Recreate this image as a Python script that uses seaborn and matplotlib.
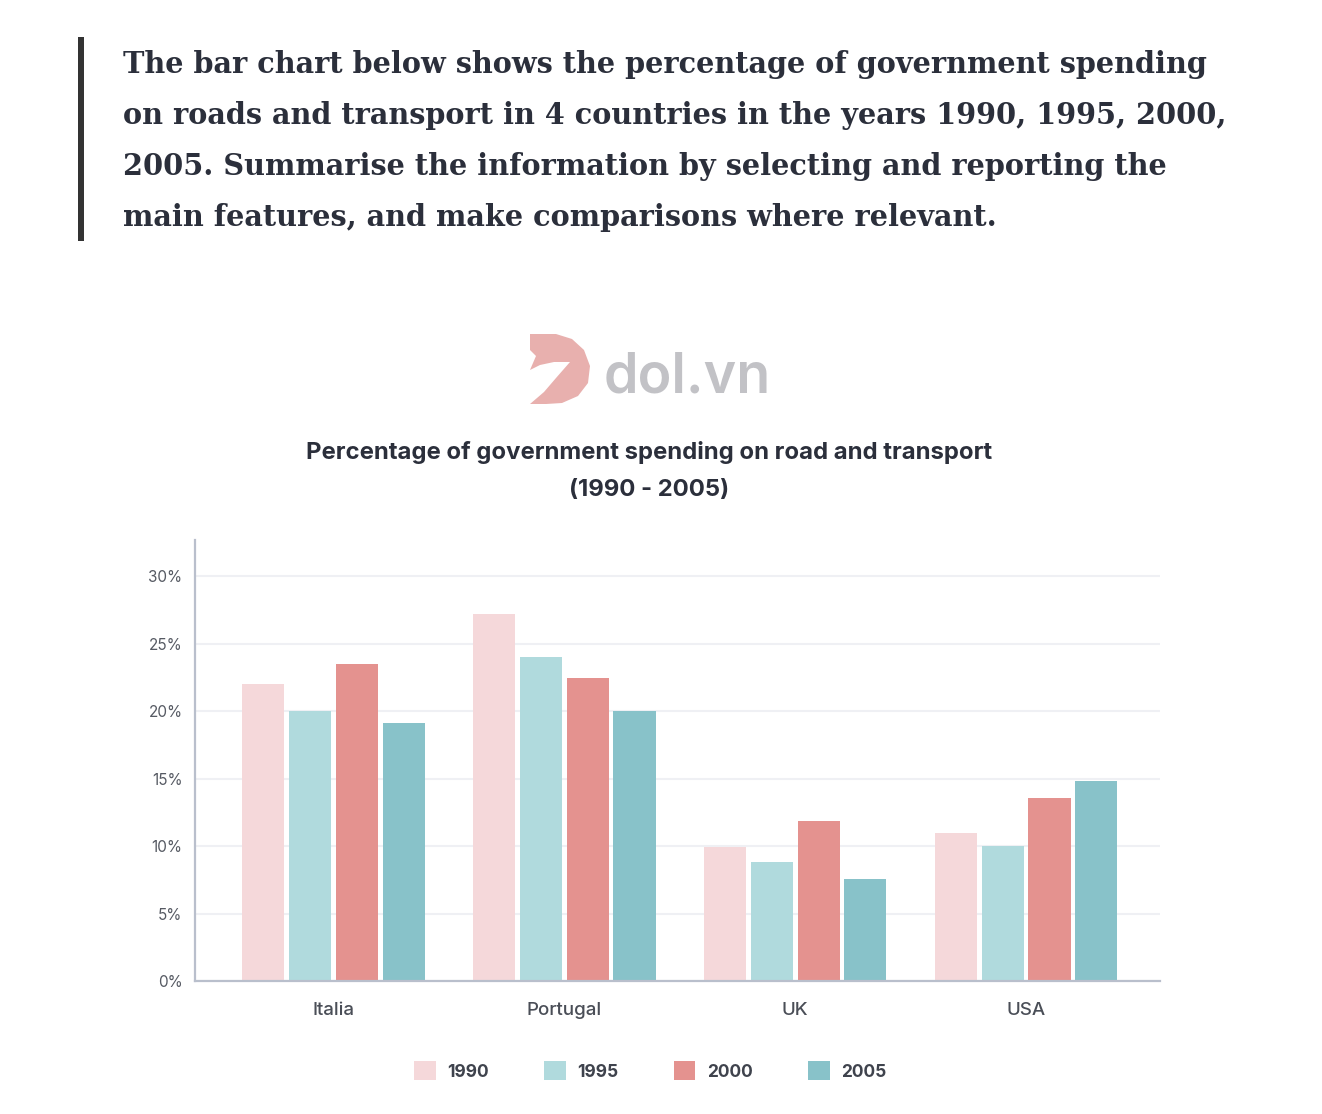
import numpy as np
import pandas as pd
import seaborn as sns
import matplotlib.pyplot as plt
from matplotlib.patches import Polygon, Rectangle

# ---- data ----
countries = ["Italia", "Portugal", "UK", "USA"]
years = ["1990", "1995", "2000", "2005"]
v1990 = [22.0, 27.2, 9.9, 11.0]
v1995 = [20.0, 24.0, 8.8, 10.0]
v2000 = [23.5, 22.5, 11.9, 13.6]
v2005 = [19.1, 20.0, 7.6, 14.8]
yticks = [0, 5, 10, 15, 20, 25, 30]
ytick_labels = ["0%", "5%", "10%", "15%", "20%", "25%", "30%"]
colors = ["#F5D8DA", "#B0DADD", "#E4928F", "#88C2C9"]

header_lines = [
    "The bar chart below shows the percentage of government spending",
    "on roads and transport in 4 countries in the years 1990, 1995, 2000,",
    "2005. Summarise the information by selecting and reporting the",
    "main features, and make comparisons where relevant.",
]
chart_title = "Percentage of government spending on road and transport"
chart_subtitle = "(1990 - 2005)"

df = pd.DataFrame({
    "Country": countries * 4,
    "Year": np.repeat(years, len(countries)),
    "Value": v1990 + v1995 + v2000 + v2005,
})

sns.set_theme(style="white")
plt.rcParams['font.family'] = ['Inter', 'DejaVu Sans']

W, H = 1322, 1114
fig = plt.figure(figsize=(W / 100, H / 100), dpi=100)
fig.patch.set_facecolor("white")

def fx(x):
    return x / W

def fy(y):
    return 1 - y / H

ax = fig.add_axes([fx(195), fy(981), fx(1160 - 195), (981 - 540) / H])
sns.barplot(data=df, x="Country", y="Value", hue="Year", palette=colors,
            width=0.81, gap=0.1, saturation=1, ax=ax, linewidth=0)

ax.set_xlim(-0.6, 3.58)
ax.set_ylim(0, 32.7)
ax.set_yticks(yticks)
ax.set_yticklabels(ytick_labels)
ax.set_xlabel("")
ax.set_ylabel("")
ax.yaxis.grid(True, color="#eff0f4", linewidth=1.5)
ax.set_axisbelow(True)
for s in ["top", "right"]:
    ax.spines[s].set_visible(False)
for s in ["left", "bottom"]:
    ax.spines[s].set_color("#b9bfcc")
    ax.spines[s].set_linewidth(1.6)
ax.tick_params(axis="y", length=0, pad=9, labelsize=11, labelcolor="#55596180")
for t in ax.get_yticklabels():
    t.set_color("#565a63")
ax.tick_params(axis="x", length=0, pad=15, labelsize=13.5, labelcolor="#4a4e57")
for t in ax.get_xticklabels():
    t.set_fontweight("medium")

handles, labels = ax.get_legend_handles_labels()
ax.legend(handles, labels, loc="center", bbox_to_anchor=(fx(650), fy(1071)),
          bbox_transform=fig.transFigure, ncol=4, frameon=False,
          handlelength=1.25, handleheight=1.25, handletextpad=0.65,
          columnspacing=3.2, prop={"size": 12.5, "weight": "bold"},
          labelcolor="#3f434d")

# header block
fig.add_artist(Rectangle((fx(78), fy(241)), fx(6), (241 - 37) / H,
                         transform=fig.transFigure, color="#333333", lw=0))
for i, line in enumerate(header_lines):
    fig.text(fx(123), fy(73 + 51 * i), line, family="DejaVu Serif",
             weight="bold", fontsize=20.7, color="#2b2f3b", va="baseline")

# logo
logo_pts = [(530, 334), (556, 334), (572, 339), (584, 350), (590, 366),
            (588, 383), (578, 396), (562, 403), (546, 404), (530, 404),
            (544, 392), (556, 378), (570, 362), (554, 362), (540, 365),
            (530, 370), (536, 356), (530, 350)]
fig.add_artist(Polygon([(fx(x), fy(y)) for x, y in logo_pts], closed=True,
                       transform=fig.transFigure, color="#e8b0ae", lw=0))
fig.text(fx(604), fy(392), "dol.vn", fontsize=40, weight="semibold",
         color="#c2c2c6", va="baseline")

# chart title
fig.text(fx(649), fy(453), chart_title, ha="center", va="center",
         fontsize=17.2, weight="bold", color="#2b2f3b")
fig.text(fx(649), fy(490), chart_subtitle, ha="center", va="center",
         fontsize=17.2, weight="bold", color="#2b2f3b")

fig.savefig("out.png", dpi=100, facecolor="white")
